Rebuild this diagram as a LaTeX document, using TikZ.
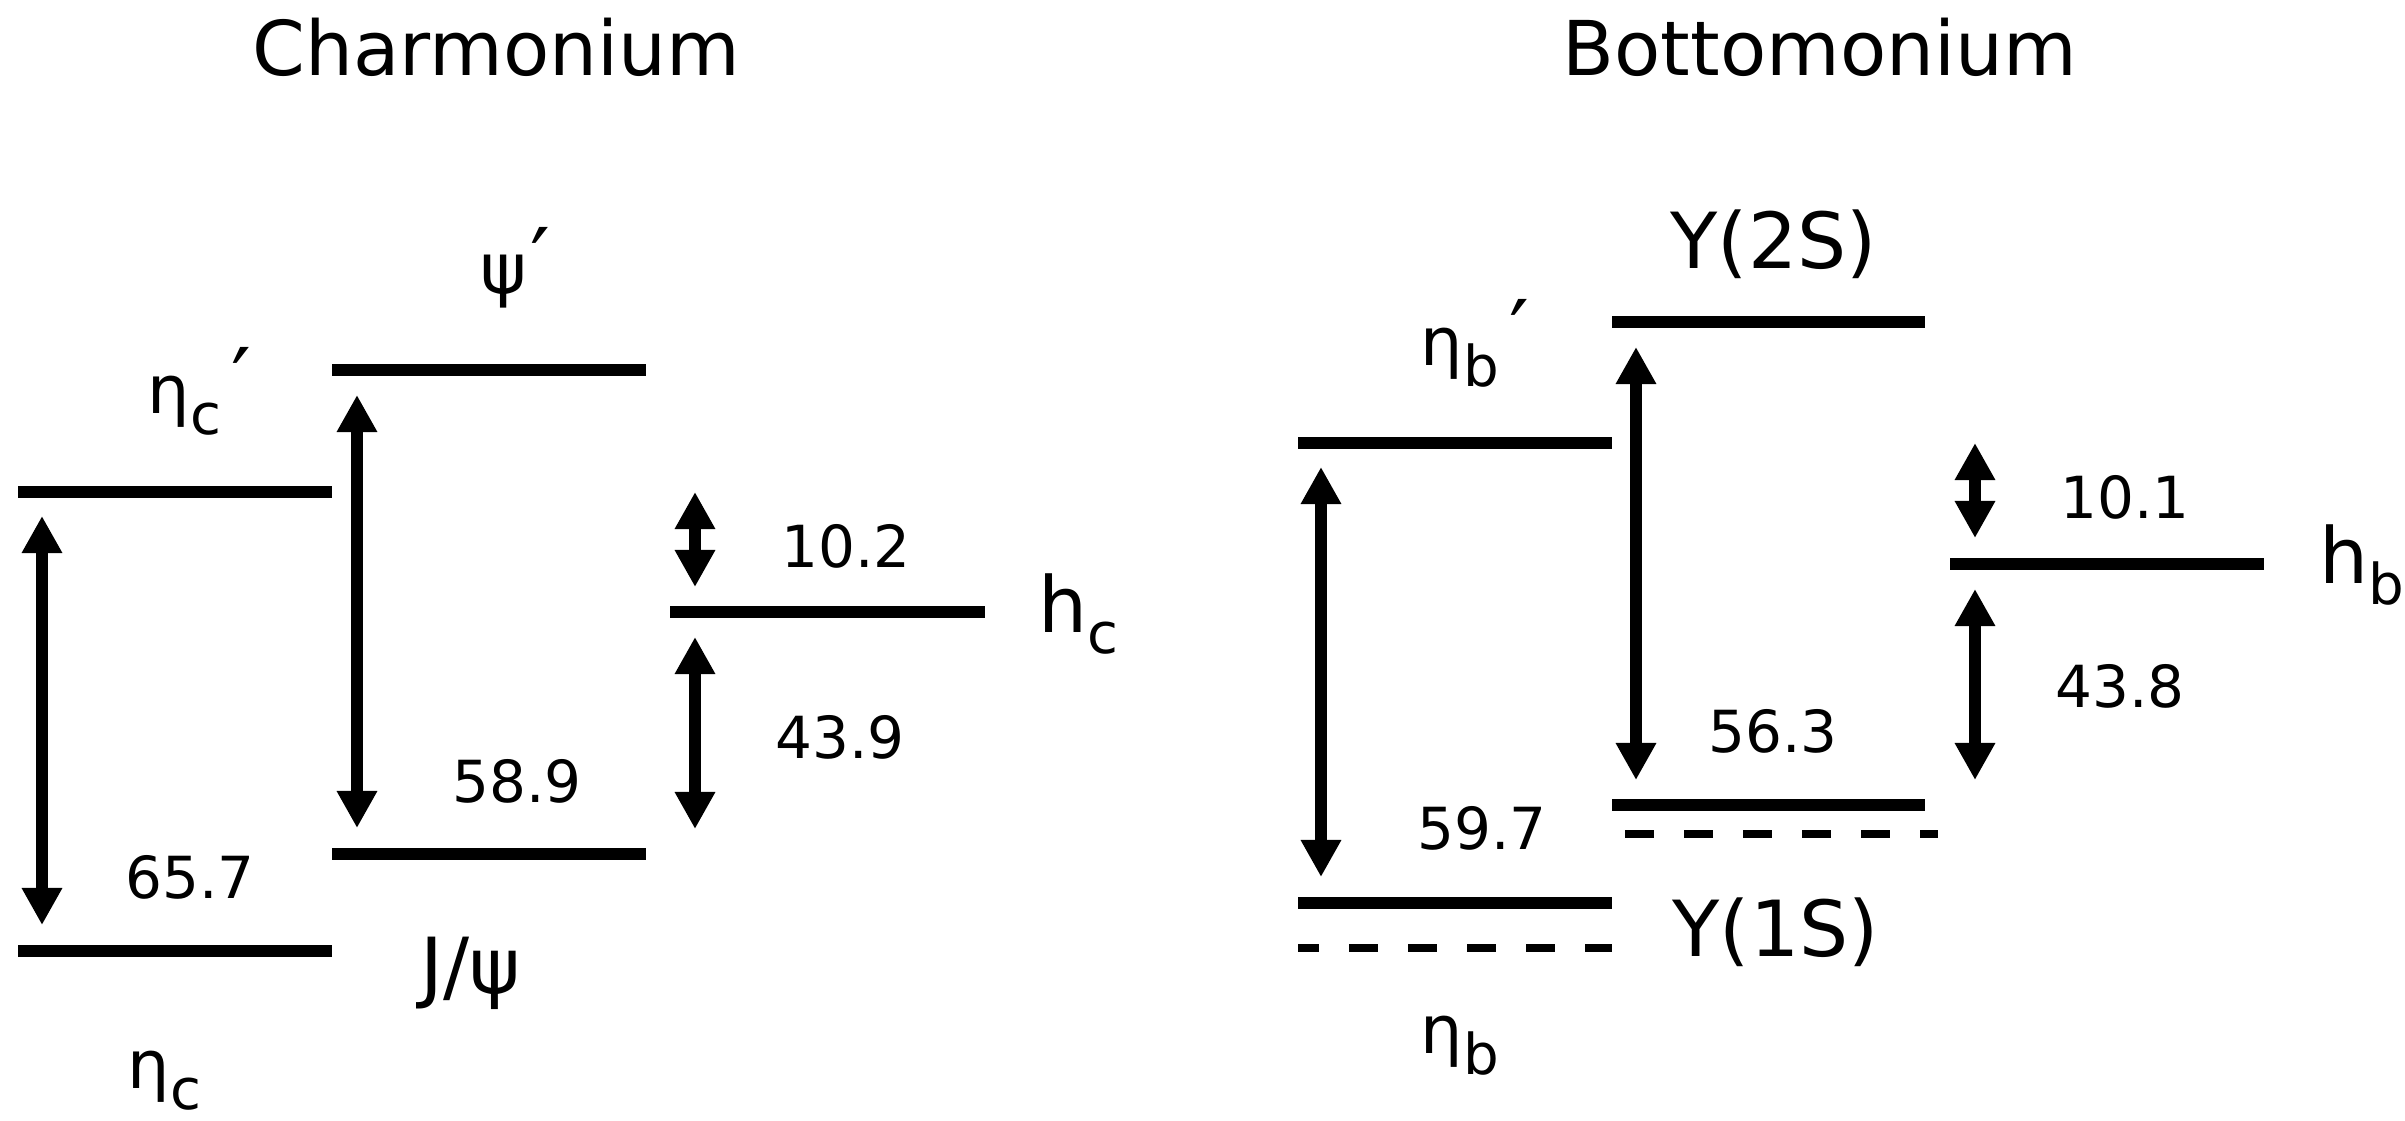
\documentclass[tikz,border=0pt]{standalone}
\usepackage{fontspec}
\setmainfont{DejaVu Sans}
\usetikzlibrary{arrows.meta}
\newcommand\fsz[1]{\fontsize{#1}{#1}\selectfont}
\newcommand\sbs[1]{\raisebox{-6.2pt}{\fsz{16pt}#1}}
\newcommand\prm{\hspace{3pt}\raisebox{0.5pt}{\fsz{25pt}′}}
\begin{document}
\begin{tikzpicture}[x=0.01cm,y=-0.01cm,
  lvl/.style={line width=0.12cm},
  dlvl/.style={line width=0.08cm, dash pattern=on 0.29cm off 0.30cm},
  gaparrow/.style={line width=0.12cm,
    {Triangle[width=0.38cm,length=0.37cm]}-{Triangle[width=0.38cm,length=0.37cm]}},
  numlbl/.style={anchor=base west, inner sep=0pt, font=\fsz{16.5pt}},
  partlbl/.style={anchor=base west, inner sep=0pt, font=\fsz{22pt}},
  greeklbl/.style={anchor=base west, inner sep=0pt, font=\fsz{19pt}},
  ttl/.style={anchor=base west, inner sep=0pt, font=\fsz{21.5pt}}]
\useasboundingbox[fill=white] (0,0) rectangle (2405,1121);

% titles
\node[ttl] (tc) at (252,75) {Charmonium};
\node[ttl] (tb) at (1562,75) {Bottomonium};

% ---------- Charmonium levels ----------
\draw[lvl] (18,492) coordinate (etacpL) -- (332,492) coordinate (etacpR);
\draw[lvl] (332,370) coordinate (psipL) -- (646,370) coordinate (psipR);
\draw[lvl] (332,854) coordinate (jpsiL) -- (646,854) coordinate (jpsiR);
\draw[lvl] (18,951) coordinate (etacL) -- (332,951) coordinate (etacR);
\draw[lvl] (670,612) coordinate (hcL) -- (985,612) coordinate (hcR);

% arrows
\coordinate (a1t) at (42,516);  \coordinate (a1b) at (42,925);
\coordinate (a2t) at (357,395); \coordinate (a2b) at (357,828);
\coordinate (a3t) at (695,492); \coordinate (a3b) at (695,587);
\coordinate (a4t) at (695,637); \coordinate (a4b) at (695,829);
\draw[gaparrow] (a1t) -- (a1b);
\draw[gaparrow] (a2t) -- (a2b);
\draw[gaparrow] (a3t) -- (a3b);
\draw[gaparrow] (a4t) -- (a4b);

% labels
\node[numlbl] (n589) at (452,802) {58.9};
\node[numlbl] (n657) at (125,898) {65.7};
\node[numlbl] (n102) at (781,567) {10.2};
\node[numlbl] (n439) at (775,758) {43.9};
\node[partlbl] (ljpsi) at (420,993) {J/ψ};
\node[partlbl] (lhc) at (1038,632) {h\sbs{c}};
\node[greeklbl] (letacp) at (147,413) {η\sbs{c}\prm};
\node[greeklbl] (lpsip) at (480,293) {\fsz{20pt}ψ\hspace{-2pt}\prm};
\node[greeklbl] (letac) at (127,1088) {η\sbs{c}};

% ---------- Bottomonium levels ----------
\draw[lvl] (1298,443) coordinate (etabpL) -- (1612,443) coordinate (etabpR);
\draw[lvl] (1612,322) coordinate (ytwoL) -- (1925,322) coordinate (ytwoR);
\draw[lvl] (1612,805) coordinate (yoneL) -- (1925,805) coordinate (yoneR);
\draw[dlvl] (1625,834) coordinate (yonedL) -- (1938,834) coordinate (yonedR);
\draw[lvl] (1298,903) coordinate (etabL) -- (1612,903) coordinate (etabR);
\draw[dlvl, dash phase=0.08cm] (1298,948) coordinate (etabdL) -- (1612,948) coordinate (etabdR);
\draw[lvl] (1950,564) coordinate (hbL) -- (2264,564) coordinate (hbR);

\coordinate (b1t) at (1321,467); \coordinate (b1b) at (1321,877);
\coordinate (b2t) at (1636,347); \coordinate (b2b) at (1636,780);
\coordinate (b3t) at (1975,443); \coordinate (b3b) at (1975,538);
\coordinate (b4t) at (1975,589); \coordinate (b4b) at (1975,780);
\draw[gaparrow] (b1t) -- (b1b);
\draw[gaparrow] (b2t) -- (b2b);
\draw[gaparrow] (b3t) -- (b3b);
\draw[gaparrow] (b4t) -- (b4b);

\node[numlbl] (n563) at (1708,752) {56.3};
\node[numlbl] (n597) at (1417,849) {59.7};
\node[numlbl] (n101) at (2060,518) {10.1};
\node[numlbl] (n438) at (2055,707) {43.8};
\node[partlbl] (lytwo) at (1670,268) {Y(2S)};
\node[partlbl] (lyone) at (1672,956) {Y(1S)};
\node[partlbl] (lhb) at (2319,583) {h\sbs{b}};
\node[greeklbl] (letabp) at (1420,365) {η\sbs{b}\prm};
\node[greeklbl] (letab) at (1420,1053) {η\sbs{b}};
\end{tikzpicture}
\end{document}
